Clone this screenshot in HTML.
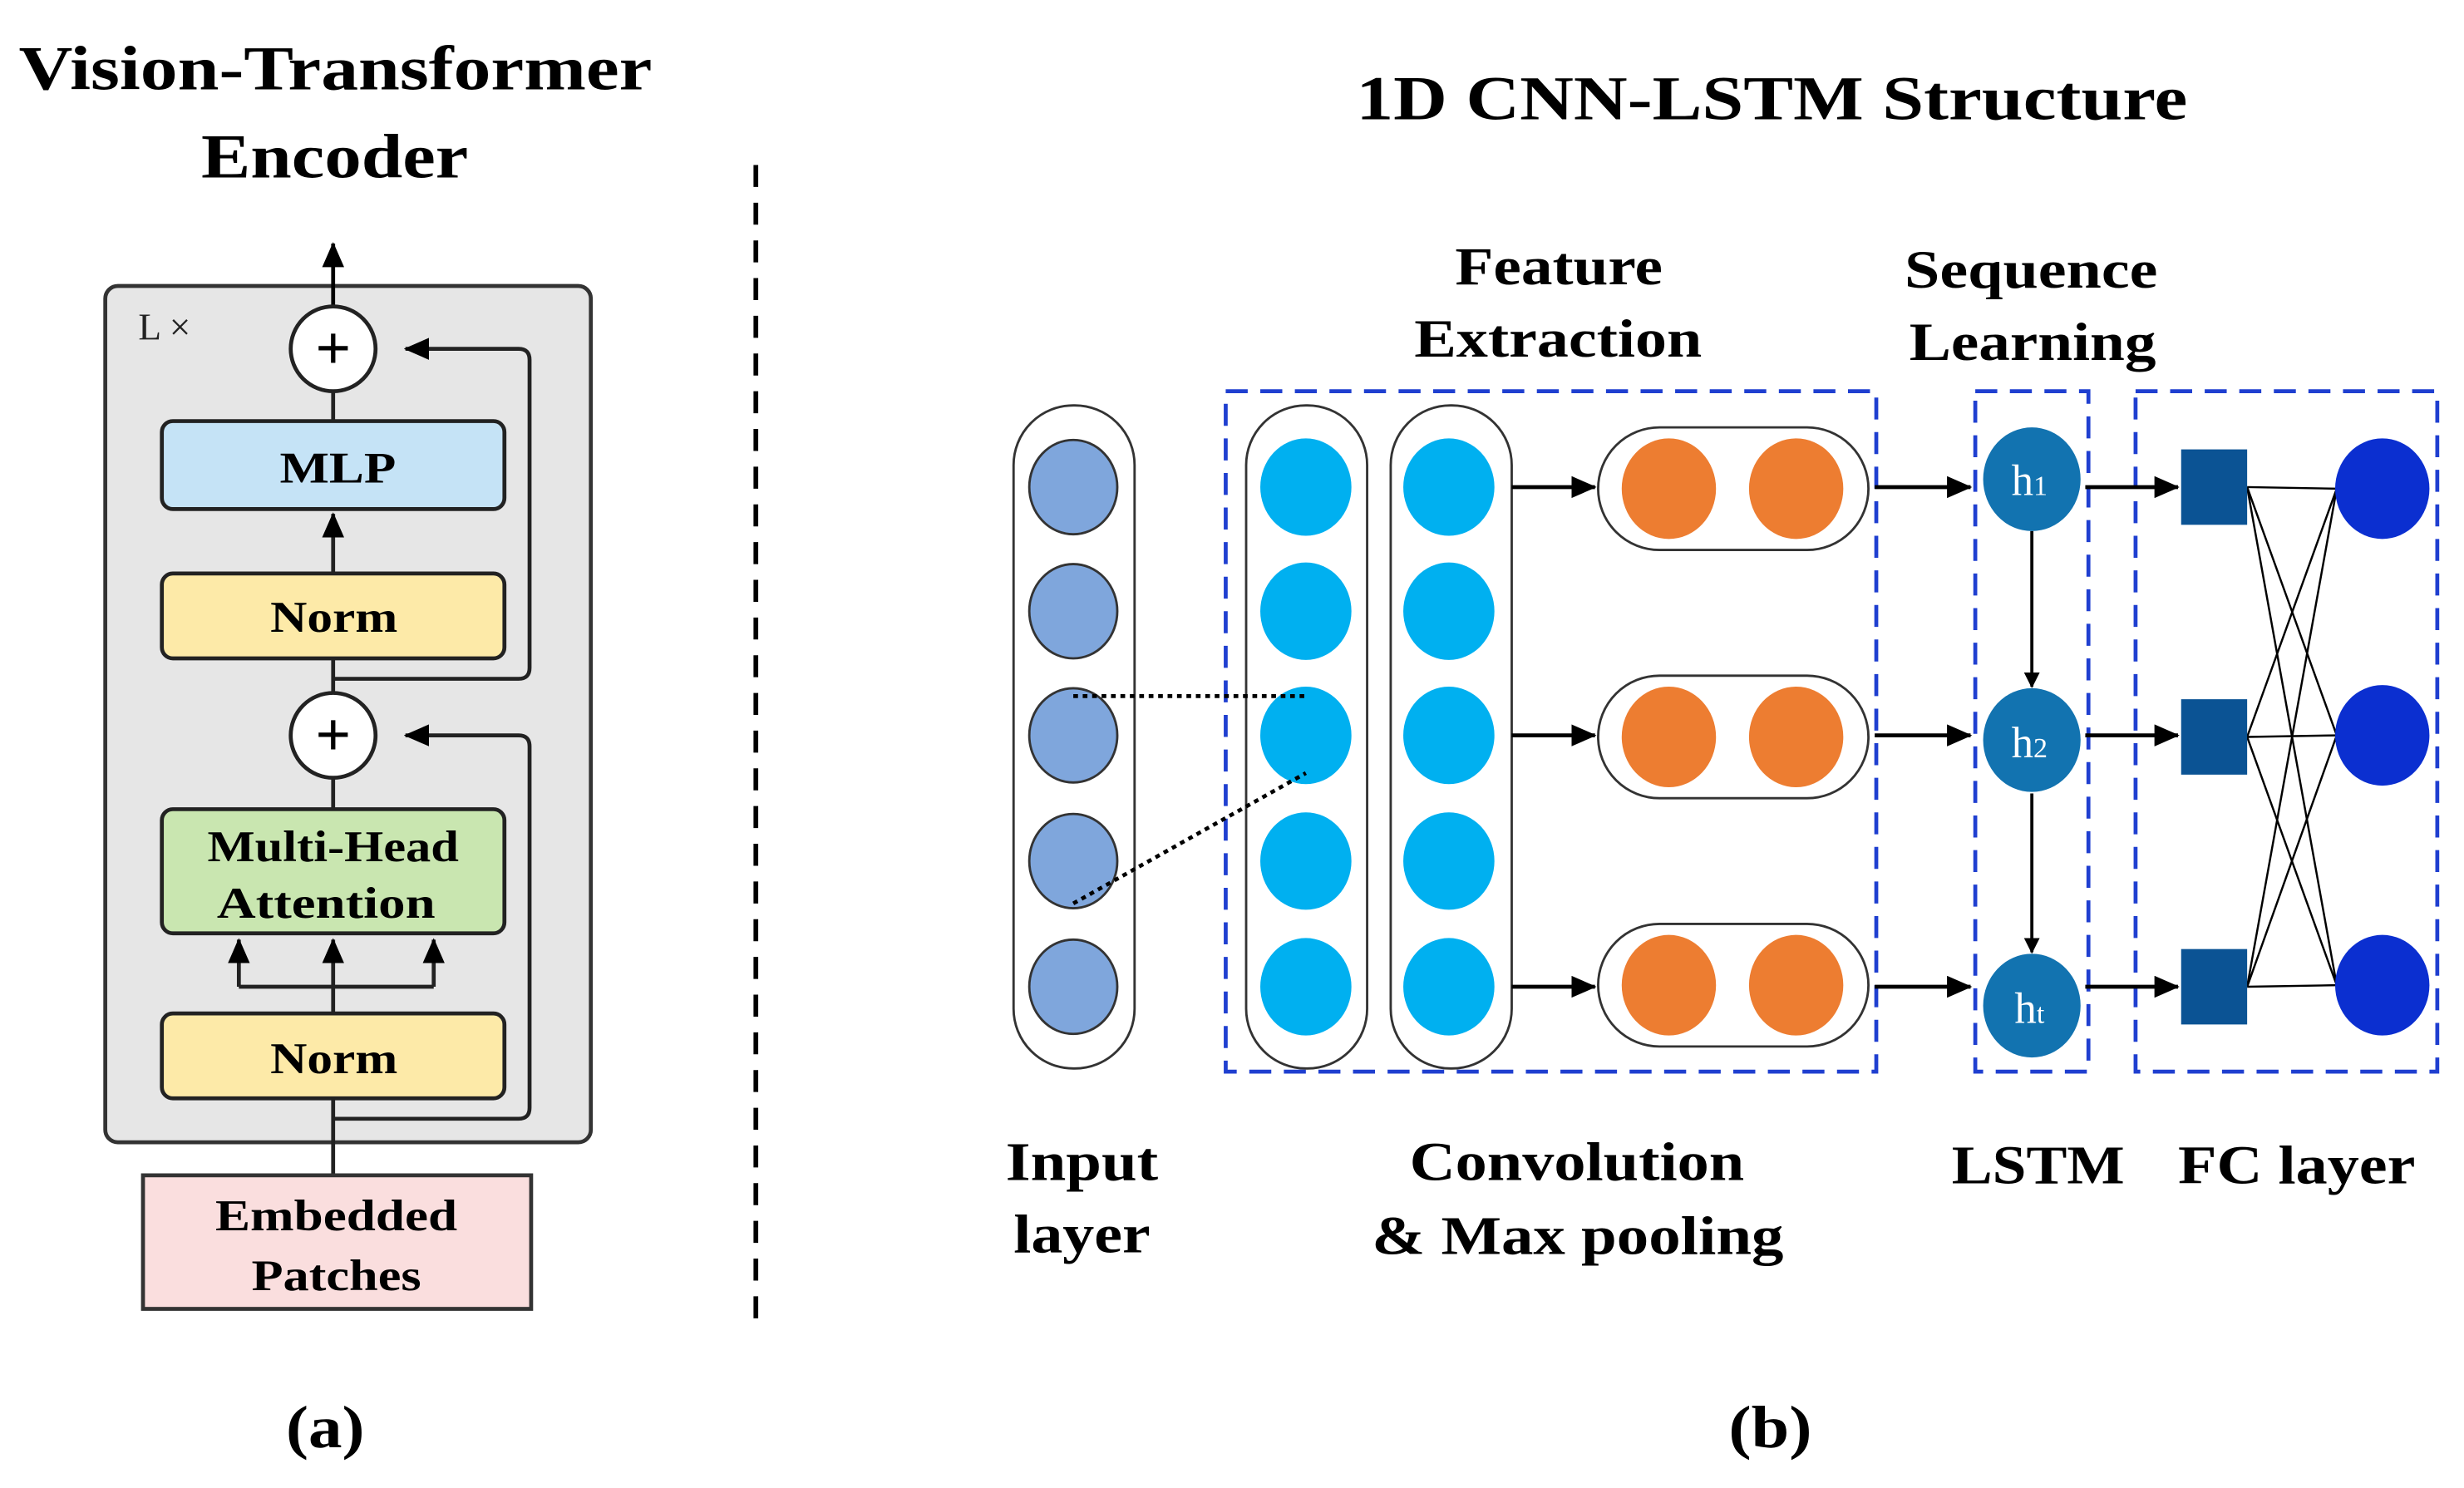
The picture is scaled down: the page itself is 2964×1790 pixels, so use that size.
<!DOCTYPE html>
<html><head><style>html,body{margin:0;padding:0;background:#fff}svg{display:block}</style></head><body>
<svg width="2964" height="1790" viewBox="0 0 1568 947" preserveAspectRatio="none" xmlns="http://www.w3.org/2000/svg" font-family="Liberation Serif, serif" font-weight="bold">
<defs>
<marker id="a" markerWidth="10" markerHeight="10" refX="9" refY="5" orient="auto" markerUnits="userSpaceOnUse"><path d="M0,0 L10,5 L0,10 z" fill="#000"/></marker>
<marker id="b" markerWidth="16" markerHeight="14" refX="15" refY="7" orient="auto" markerUnits="userSpaceOnUse"><path d="M0,0 L16,7 L0,14 z" fill="#000"/></marker>
</defs>
<rect width="1568" height="947" fill="#fff"/>
<!-- (a) -->
<text x="12" y="57" font-size="40" textLength="403" lengthAdjust="spacingAndGlyphs">Vision-Transformer</text>
<text x="128" y="113" font-size="40" textLength="170" lengthAdjust="spacingAndGlyphs">Encoder</text>
<rect x="67" y="182" width="309" height="545" rx="8" fill="#e6e6e6" stroke="#333" stroke-width="2.5"/>
<text x="88" y="216" font-size="24" font-weight="normal" fill="#222">L ×</text>
<line x1="212" y1="195" x2="212" y2="155" stroke="#000" stroke-width="2.5" marker-end="url(#b)"/>
<g stroke="#222" stroke-width="2.5" fill="none">
<path d="M212,432 L330,432 Q337,432 337,425 L337,229 Q337,222 330,222 L258,222" marker-end="url(#b)"/>
<path d="M212,712 L330,712 Q337,712 337,705 L337,475 Q337,468 330,468 L258,468" marker-end="url(#b)"/>
<line x1="212" y1="249" x2="212" y2="268"/>
<line x1="212" y1="419" x2="212" y2="441"/>
<line x1="212" y1="495" x2="212" y2="515"/>
<line x1="212" y1="748" x2="212" y2="699"/>
<line x1="212" y1="645" x2="212" y2="598" marker-end="url(#b)"/>
<polyline points="152,628 276,628"/>
<line x1="152" y1="628" x2="152" y2="598" marker-end="url(#b)"/>
<line x1="276" y1="628" x2="276" y2="598" marker-end="url(#b)"/>
<line x1="212" y1="365" x2="212" y2="327" marker-end="url(#b)"/>
</g>
<circle cx="212" cy="222" r="27" fill="#fff" stroke="#222" stroke-width="2.5"/>
<text x="212" y="235" font-size="40" text-anchor="middle">+</text>
<circle cx="212" cy="468" r="27" fill="#fff" stroke="#222" stroke-width="2.5"/>
<text x="212" y="481" font-size="40" text-anchor="middle">+</text>
<rect x="103" y="268" width="218" height="56" rx="7" fill="#c5e3f6" stroke="#222" stroke-width="2.5"/>
<text x="178" y="307" font-size="28" textLength="74" lengthAdjust="spacingAndGlyphs">MLP</text>
<rect x="103" y="365" width="218" height="54" rx="7" fill="#fdeaa8" stroke="#222" stroke-width="2.5"/>
<text x="172" y="402" font-size="28" textLength="81" lengthAdjust="spacingAndGlyphs">Norm</text>
<rect x="103" y="515" width="218" height="79" rx="7" fill="#c9e6b0" stroke="#222" stroke-width="2.5"/>
<text x="132" y="548" font-size="28" textLength="160" lengthAdjust="spacingAndGlyphs">Multi-Head</text>
<text x="138" y="584" font-size="28" textLength="139" lengthAdjust="spacingAndGlyphs">Attention</text>
<rect x="103" y="645" width="218" height="54" rx="7" fill="#fdeaa8" stroke="#222" stroke-width="2.5"/>
<text x="172" y="683" font-size="28" textLength="81" lengthAdjust="spacingAndGlyphs">Norm</text>
<rect x="91" y="748" width="247" height="85" fill="#fadede" stroke="#333" stroke-width="2.5"/>
<text x="137" y="783" font-size="28" textLength="154" lengthAdjust="spacingAndGlyphs">Embedded</text>
<text x="160" y="821" font-size="28" textLength="108" lengthAdjust="spacingAndGlyphs">Patches</text>
<text x="182" y="921" font-size="38" textLength="50" lengthAdjust="spacingAndGlyphs">(a)</text>
<line x1="481" y1="105" x2="481" y2="845" stroke="#000" stroke-width="3" stroke-dasharray="14,10"/>
<!-- (b) -->
<text x="863" y="76" font-size="40" textLength="529" lengthAdjust="spacingAndGlyphs">1D CNN-LSTM Structure</text>
<text x="926" y="181" font-size="34" textLength="132" lengthAdjust="spacingAndGlyphs">Feature</text>
<text x="900" y="227" font-size="34" textLength="183" lengthAdjust="spacingAndGlyphs">Extraction</text>
<text x="1212" y="183" font-size="34" textLength="161" lengthAdjust="spacingAndGlyphs">Sequence</text>
<text x="1215" y="229" font-size="34" textLength="157" lengthAdjust="spacingAndGlyphs">Learning</text>
<g fill="none" stroke="#1f3fd0" stroke-width="2.5" stroke-dasharray="14,8">
<rect x="780" y="249" width="414" height="433"/>
<rect x="1257" y="249" width="72" height="433"/>
<rect x="1359" y="249" width="192" height="433"/>
</g>
<g fill="#fff" stroke="#333" stroke-width="1.5">
<rect x="645" y="258" width="77" height="422" rx="38"/>
<rect x="793" y="258" width="77" height="422" rx="38"/>
<rect x="885" y="258" width="77" height="422" rx="38"/>
<rect x="1017" y="272" width="172" height="78" rx="39"/>
<rect x="1017" y="430" width="172" height="78" rx="39"/>
<rect x="1017" y="588" width="172" height="78" rx="39"/>
</g>
<g fill="#7fa6dc" stroke="#333" stroke-width="1.5">
<ellipse cx="683" cy="310" rx="28" ry="30"/><ellipse cx="683" cy="389" rx="28" ry="30"/><ellipse cx="683" cy="468" rx="28" ry="30"/><ellipse cx="683" cy="548" rx="28" ry="30"/><ellipse cx="683" cy="628" rx="28" ry="30"/>
</g>
<g fill="#00b0f0">
<ellipse cx="831" cy="310" rx="29" ry="31"/><ellipse cx="831" cy="389" rx="29" ry="31"/><ellipse cx="831" cy="468" rx="29" ry="31"/><ellipse cx="831" cy="548" rx="29" ry="31"/><ellipse cx="831" cy="628" rx="29" ry="31"/>
<ellipse cx="922" cy="310" rx="29" ry="31"/><ellipse cx="922" cy="389" rx="29" ry="31"/><ellipse cx="922" cy="468" rx="29" ry="31"/><ellipse cx="922" cy="548" rx="29" ry="31"/><ellipse cx="922" cy="628" rx="29" ry="31"/>
</g>
<g stroke="#000" stroke-width="2.5" stroke-dasharray="3,3"><line x1="683" y1="443" x2="831" y2="443"/><line x1="683" y1="575" x2="831" y2="492"/></g>
<g fill="#ed7d31">
<ellipse cx="1062" cy="311" rx="30" ry="32"/><ellipse cx="1143" cy="311" rx="30" ry="32"/>
<ellipse cx="1062" cy="469" rx="30" ry="32"/><ellipse cx="1143" cy="469" rx="30" ry="32"/>
<ellipse cx="1062" cy="627" rx="30" ry="32"/><ellipse cx="1143" cy="627" rx="30" ry="32"/>
</g>
<g stroke="#000" stroke-width="2.5">
<line x1="962" y1="310" x2="1015" y2="310" marker-end="url(#b)"/>
<line x1="962" y1="468" x2="1015" y2="468" marker-end="url(#b)"/>
<line x1="962" y1="628" x2="1015" y2="628" marker-end="url(#b)"/>
<line x1="1193" y1="310" x2="1254" y2="310" marker-end="url(#b)"/>
<line x1="1193" y1="468" x2="1254" y2="468" marker-end="url(#b)"/>
<line x1="1193" y1="628" x2="1254" y2="628" marker-end="url(#b)"/>
<line x1="1327" y1="310" x2="1386" y2="310" marker-end="url(#b)"/>
<line x1="1327" y1="468" x2="1386" y2="468" marker-end="url(#b)"/>
<line x1="1327" y1="628" x2="1386" y2="628" marker-end="url(#b)"/>
<line x1="1293" y1="338" x2="1293" y2="437" stroke-width="2" marker-end="url(#a)"/>
<line x1="1293" y1="505" x2="1293" y2="606" stroke-width="2" marker-end="url(#a)"/>
</g>
<g fill="#1273b0">
<ellipse cx="1293" cy="305" rx="31" ry="33"/><ellipse cx="1293" cy="471" rx="31" ry="33"/><ellipse cx="1293" cy="640" rx="31" ry="33"/>
</g>
<g fill="#fff" font-weight="normal" font-size="28">
<text x="1280" y="315">h<tspan font-size="18">1</tspan></text>
<text x="1280" y="482">h<tspan font-size="18">2</tspan></text>
<text x="1282" y="651">h<tspan font-size="18">t</tspan></text>
</g>
<g stroke="#000" stroke-width="1.3">
<line x1="1430" y1="310" x2="1487" y2="311"/><line x1="1430" y1="310" x2="1487" y2="468"/><line x1="1430" y1="310" x2="1487" y2="627"/>
<line x1="1430" y1="469" x2="1487" y2="311"/><line x1="1430" y1="469" x2="1487" y2="468"/><line x1="1430" y1="469" x2="1487" y2="627"/>
<line x1="1430" y1="628" x2="1487" y2="311"/><line x1="1430" y1="628" x2="1487" y2="468"/><line x1="1430" y1="628" x2="1487" y2="627"/>
</g>
<g fill="#0b5394">
<rect x="1388" y="286" width="42" height="48"/><rect x="1388" y="445" width="42" height="48"/><rect x="1388" y="604" width="42" height="48"/>
</g>
<g fill="#0b2fd0">
<ellipse cx="1516" cy="311" rx="30" ry="32"/><ellipse cx="1516" cy="468" rx="30" ry="32"/><ellipse cx="1516" cy="627" rx="30" ry="32"/>
</g>
<g font-size="35">
<text x="640" y="751" textLength="97" lengthAdjust="spacingAndGlyphs">Input</text>
<text x="645" y="797" textLength="87" lengthAdjust="spacingAndGlyphs">layer</text>
<text x="897" y="751" textLength="213" lengthAdjust="spacingAndGlyphs">Convolution</text>
<text x="873" y="798" textLength="262" lengthAdjust="spacingAndGlyphs">&amp; Max pooling</text>
<text x="1242" y="753" textLength="110" lengthAdjust="spacingAndGlyphs">LSTM</text>
<text x="1386" y="753" textLength="151" lengthAdjust="spacingAndGlyphs">FC layer</text>
</g>
<text x="1100" y="921" font-size="38" textLength="53" lengthAdjust="spacingAndGlyphs">(b)</text>
</svg>
</body></html>
